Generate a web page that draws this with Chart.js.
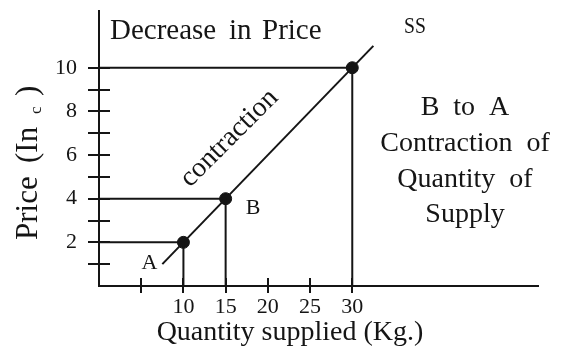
<!DOCTYPE html>
<html>
<head>
<meta charset="utf-8">
<script src="https://cdn.jsdelivr.net/npm/chart.js@4"></script>
<style>
  html, body { margin: 0; padding: 0; background: #fff; }
</style>
</head>
<body>
<canvas id="supplyChart" width="564" height="353"></canvas>
<script>
// points on the supply curve: A, B and the upper point
const quantity = [10, 15, 30];
const price = [2, 4, 10];
const pointNames = ['A', 'B', ''];

// ends of the SS line
const supplyQty = [7.5, 32.5];
const supplyPrice = [1, 11];

// axis ticks and which of them get a number
const xTicks = [5, 10, 15, 20, 25, 30];
const xLabels = [10, 15, 20, 25, 30];
const yTicks = [1, 2, 3, 4, 5, 6, 7, 8, 9, 10];
const yLabels = [2, 4, 6, 8, 10];

const INK = '#151515';
const SERIF = '"Liberation Serif", "Times New Roman", serif';

// guide lines from each point to both axes
const guideSets = quantity.map((q, i) => ({
  data: [{ x: 0, y: price[i] }, { x: q, y: price[i] }, { x: q, y: 0 }],
  showLine: true,
  borderColor: INK,
  borderWidth: 2,
  pointRadius: 0,
  tension: 0
}));

const crossTicks = {
  id: 'crossTicks',
  afterDraw(chart) {
    const { ctx, scales: { x, y }, chartArea } = chart;
    ctx.save();
    ctx.strokeStyle = INK;
    ctx.lineWidth = 2;
    ctx.beginPath();
    yTicks.forEach(v => {
      const py = Math.round(y.getPixelForValue(v));
      ctx.moveTo(chartArea.left - 11, py);
      ctx.lineTo(chartArea.left + 11, py);
    });
    xTicks.forEach(v => {
      const px = Math.round(x.getPixelForValue(v));
      ctx.moveTo(px, chartArea.bottom - 8);
      ctx.lineTo(px, chartArea.bottom + 7);
    });
    ctx.stroke();
    ctx.restore();
  }
};

const notes = {
  id: 'notes',
  afterDraw(chart) {
    const { ctx, scales: { x, y } } = chart;
    ctx.save();
    ctx.fillStyle = INK;
    ctx.textBaseline = 'alphabetic';

    // heading
    ctx.font = '29px ' + SERIF;
    ctx.textAlign = 'left';
    ctx.fillText('Decrease', 110, 39);
    ctx.fillText('in', 229, 39);
    ctx.fillText('Price', 262, 39);

    // curve name
    ctx.save();
    ctx.font = '24px ' + SERIF;
    ctx.translate(404, 33);
    ctx.scale(0.82, 1);
    ctx.fillText('SS', 0, 0);
    ctx.restore();

    // side note
    ctx.font = '28px ' + SERIF;
    ctx.textAlign = 'center';
    ctx.fillText('B  to  A', 465, 115);
    ctx.fillText('Contraction  of', 465, 151);
    ctx.fillText('Quantity  of', 465, 187);
    ctx.fillText('Supply', 465, 222);

    // point names
    ctx.font = '22px ' + SERIF;
    ctx.textAlign = 'right';
    ctx.fillText(pointNames[0], x.getPixelForValue(quantity[0]) - 26, y.getPixelForValue(price[0]) + 27);
    ctx.textAlign = 'left';
    ctx.fillText(pointNames[1], x.getPixelForValue(quantity[1]) + 20, y.getPixelForValue(price[1]) + 15);

    // label along the curve
    ctx.save();
    ctx.font = '28px ' + SERIF;
    ctx.translate(190, 188);
    ctx.rotate(-Math.PI / 4);
    ctx.fillText('contraction', 0, 0);
    ctx.restore();

    // axis titles
    ctx.font = '28px ' + SERIF;
    ctx.textAlign = 'center';
    ctx.fillText('Quantity supplied (Kg.)', 290, 340);

    ctx.save();
    ctx.translate(37, 240);
    ctx.rotate(-Math.PI / 2);
    ctx.textAlign = 'left';
    ctx.font = '31px ' + SERIF;
    ctx.fillText('Price', 0, 0);
    ctx.fillText('(In', 77, 0);
    ctx.fillText(')', 144, 0);
    ctx.font = '17px ' + SERIF;
    ctx.fillText('c', 126, 4);
    ctx.restore();

    ctx.restore();
  }
};

new Chart(document.getElementById('supplyChart'), {
  type: 'scatter',
  data: {
    datasets: [
      {
        data: supplyQty.map((q, i) => ({ x: q, y: supplyPrice[i] })),
        showLine: true,
        borderColor: INK,
        borderWidth: 2,
        pointRadius: 0
      },
      ...guideSets,
      {
        data: quantity.map((q, i) => ({ x: q, y: price[i] })),
        backgroundColor: INK,
        borderColor: INK,
        pointRadius: 6,
        pointHoverRadius: 6
      }
    ]
  },
  options: {
    responsive: false,
    animation: false,
    devicePixelRatio: 1,
    layout: { padding: { top: 11, right: 26, left: 0, bottom: 0 } },
    plugins: {
      legend: { display: false },
      tooltip: { enabled: false }
    },
    scales: {
      x: {
        type: 'linear',
        min: 0,
        max: 52,
        afterBuildTicks: scale => { scale.ticks = xTicks.map(v => ({ value: v })); },
        afterFit: scale => {
          scale.height = 67;
          scale.paddingLeft = 0;
          scale.paddingRight = 0;
        },
        grid: { display: false, drawTicks: false },
        border: { display: true, color: INK, width: 2 },
        ticks: {
          autoSkip: false,
          maxRotation: 0,
          padding: 8,
          color: INK,
          font: { family: SERIF, size: 22 },
          callback: v => xLabels.includes(v) ? String(v) : ''
        }
      },
      y: {
        min: 0,
        max: 12.6,
        afterBuildTicks: scale => { scale.ticks = yTicks.map(v => ({ value: v })); },
        afterFit: scale => {
          scale.width = 99;
          scale.paddingTop = 0;
          scale.paddingBottom = 0;
        },
        grid: { display: false, drawTicks: false },
        border: { display: true, color: INK, width: 2 },
        ticks: {
          autoSkip: false,
          padding: 22,
          color: INK,
          font: { family: SERIF, size: 22 },
          callback: v => yLabels.includes(v) ? String(v) : ''
        }
      }
    }
  },
  plugins: [crossTicks, notes]
});
</script>
</body>
</html>
